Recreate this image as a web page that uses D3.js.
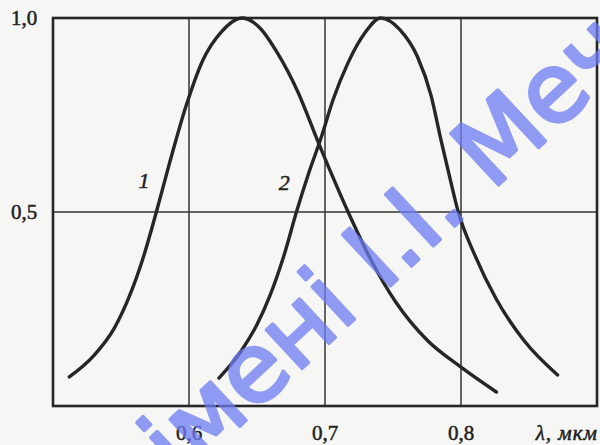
<!DOCTYPE html>
<html>
<head>
<meta charset="utf-8">
<script src="https://cdn.jsdelivr.net/npm/d3@7"></script>
<style>
  body { margin: 0; background: #f6f6f4; }
  svg { display: block; }
</style>
</head>
<body>
<div id="chart"></div>
<script>
// wavelength, mkm and relative response
const curve1X = [0.512, 0.530, 0.545, 0.557, 0.567, 0.576, 0.586, 0.598, 0.610, 0.624, 0.639, 0.652, 0.665, 0.680, 0.695, 0.717, 0.734, 0.752, 0.775, 0.800, 0.826];
const curve1Y = [0.075, 0.130, 0.200, 0.290, 0.390, 0.500, 0.630, 0.775, 0.890, 0.965, 1.000, 0.975, 0.910, 0.810, 0.680, 0.500, 0.375, 0.268, 0.170, 0.100, 0.036];
const curve2X = [0.622, 0.638, 0.650, 0.659, 0.670, 0.679, 0.688, 0.697, 0.706, 0.717, 0.729, 0.741, 0.755, 0.768, 0.778, 0.785, 0.791, 0.798, 0.810, 0.826, 0.846, 0.871];
const curve2Y = [0.072, 0.140, 0.210, 0.280, 0.390, 0.500, 0.600, 0.690, 0.790, 0.885, 0.960, 1.000, 0.970, 0.900, 0.800, 0.690, 0.600, 0.500, 0.390, 0.275, 0.170, 0.080];
const xTicks = [0.6, 0.7, 0.8];
const xTickLabels = ["0,6", "0,7", "0,8"];
const yTicks = [0.5, 1.0];
const yTickLabels = ["0,5", "1,0"];
const curveLabels = [{ name: "1", x: 0.567, y: 0.561 }, { name: "2", x: 0.670, y: 0.556 }];

const width = 600, height = 445;
const svg = d3.select("#chart").append("svg")
    .attr("width", width)
    .attr("height", height);

const x = d3.scaleLinear().domain([0.5, 0.9]).range([53, 597]);
const y = d3.scaleLinear().domain([0, 1]).range([406, 18]);

// grid
svg.append("g")
    .selectAll("line")
    .data(xTicks)
    .join("line")
    .attr("x1", d => x(d)).attr("x2", d => x(d))
    .attr("y1", y(0)).attr("y2", y(1))
    .attr("stroke", "#333")
    .attr("stroke-width", 1.5);

svg.append("line")
    .attr("x1", x(0.5)).attr("x2", x(0.9))
    .attr("y1", y(0.5)).attr("y2", y(0.5))
    .attr("stroke", "#333")
    .attr("stroke-width", 1.6);

// frame
svg.append("rect")
    .attr("x", x(0.5)).attr("y", y(1))
    .attr("width", x(0.9) - x(0.5))
    .attr("height", y(0) - y(1))
    .attr("fill", "none")
    .attr("stroke", "#262626")
    .attr("stroke-width", 2.6);

const line = d3.line()
    .x(d => x(d[0]))
    .y(d => y(d[1]))
    .curve(d3.curveMonotoneX);

[[curve1X, curve1Y], [curve2X, curve2Y]].forEach(([xs, ys]) => {
    svg.append("path")
        .datum(d3.zip(xs, ys))
        .attr("fill", "none")
        .attr("stroke", "#262626")
        .attr("stroke-width", 3.4)
        .attr("stroke-linecap", "round")
        .attr("d", line);
});

const serif = "'Liberation Serif', 'DejaVu Serif', serif";

function label(sel, size, italic) {
    sel.attr("font-family", serif)
        .attr("font-size", size)
        .attr("font-style", italic ? "italic" : "normal")
        .attr("fill", "#222")
        .attr("stroke", "#222")
        .attr("stroke-width", 0.5);
}

svg.append("g")
    .selectAll("text")
    .data(xTicks)
    .join("text")
    .attr("x", d => x(d))
    .attr("y", 440)
    .attr("text-anchor", "middle")
    .call(label, 21, false)
    .text((d, i) => xTickLabels[i]);

svg.append("g")
    .selectAll("text")
    .data(yTicks)
    .join("text")
    .attr("x", 11)
    .attr("y", d => y(d) + 7)
    .call(label, 21, false)
    .text((d, i) => yTickLabels[i]);

svg.append("text")
    .attr("x", 598)
    .attr("y", 440)
    .attr("text-anchor", "end")
    .attr("letter-spacing", 1)
    .call(label, 21, true)
    .text("λ, мкм");

svg.append("g")
    .selectAll("text")
    .data(curveLabels)
    .join("text")
    .attr("x", d => x(d.x))
    .attr("y", d => y(d.y))
    .attr("text-anchor", "middle")
    .call(label, 22, true)
    .text(d => d.name);

// library watermark
svg.append("g")
    .attr("opacity", 0.75)
    .append("text")
    .attr("transform", "translate(180,482) rotate(-43)")
    .attr("font-family", "'DejaVu Sans', sans-serif")
    .attr("font-size", 96)
    .attr("fill", "#6d7cf3")
    .attr("stroke", "#6d7cf3")
    .attr("stroke-width", 3.5)
    .attr("stroke-linejoin", "round")
    .text("імені І.І. Мечникова");
</script>
</body>
</html>
